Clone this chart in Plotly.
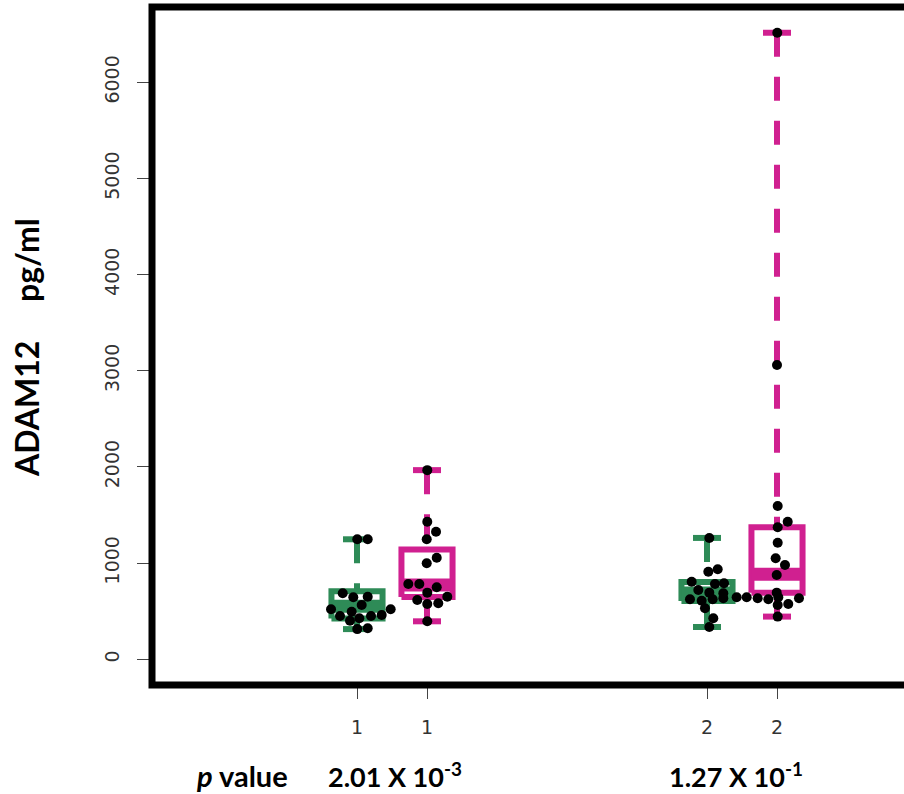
import plotly.graph_objects as go

# ---------------- data ----------------
box_positions = [1, 2, 6, 7]
box_colors = ["#2E8B57", "#D02090", "#2E8B57", "#D02090"]
box_min = [314, 395, 336, 444]
box_q1 = [424, 648, 606, 692]
box_median = [552, 772, 689, 884]
box_q3 = [707, 1141, 803, 1372]
box_max = [1248, 1967, 1262, 6515]

# individual observations (value, horizontal jitter offset)
g1_values = [1248, 1248, 686, 645, 651, 565, 520, 495, 520, 461, 450, 450, 426, 401, 314, 322]
g1_offsets = [0.004, 0.153, -0.204, -0.053, 0.153, 0.067, -0.371, -0.076, 0.481, 0.353,
              0.2, -0.243, 0.033, -0.1, 0.004, 0.153]
m1_values = [1967, 1431, 1327, 1248, 1056, 998, 783, 783, 749, 693, 651, 617, 575, 582, 395]
m1_offsets = [0.004, 0.004, 0.129, -0.004, 0.139, -0.004, -0.267, -0.11, 0.139, 0.004,
              0.29, -0.139, 0.004, 0.161, 0.004]
g2_values = [1262, 911, 936, 807, 783, 790, 721, 693, 686, 624, 609, 624, 634, 645, 645,
             530, 426, 336]
g2_offsets = [0.033, 0.019, 0.153, -0.219, 0.114, 0.243, -0.124, 0.033, 0.233, -0.243,
              -0.076, 0.081, 0.233, 0.424, 0.567, -0.029, 0.09, 0.033]
m2_values = [6515, 3060, 1594, 1431, 1373, 1212, 1050, 981, 877, 634, 624, 693, 645, 575,
             634, 565, 444]
m2_offsets = [0.004, 0.0, 0.01, 0.153, 0.01, 0.01, -0.019, 0.114, -0.004, -0.276, -0.124,
              -0.004, 0.019, 0.161, 0.314, 0.01, 0.01]
point_values = [g1_values, m1_values, g2_values, m2_values]
point_offsets = [g1_offsets, m1_offsets, g2_offsets, m2_offsets]

x_tick_labels = ["1", "1", "2", "2"]
y_tick_values = [0, 1000, 2000, 3000, 4000, 5000, 6000]
y_title_parts = ["ADAM12", "pg/ml"]
p_label = "<b><i>p</i> value</b>"
p_values = ["<b>2.01 X 10<sup>-3</sup></b>", "<b>1.27 X 10<sup>-1</sup></b>"]

# ---------------- figure ----------------
W, H = 904, 794
ML, MR, MT, MB = 152, 0, 7, 109
plot_w = W - ML - MR
plot_h = H - MT - MB

BOX_HALF = 0.365
CAP_HALF = 0.2
LW = 6

fig = go.Figure()

for i, c in enumerate(box_positions):
    col = box_colors[i]
    # whiskers (drawn from the extreme toward the box, dashed)
    fig.add_trace(go.Scatter(x=[c, c], y=[box_max[i], box_q3[i]], mode="lines",
                             line=dict(color=col, width=LW, dash="24px,20px"),
                             hoverinfo="skip", showlegend=False))
    fig.add_trace(go.Scatter(x=[c, c], y=[box_min[i], box_q1[i]], mode="lines",
                             line=dict(color=col, width=LW, dash="24px,20px"),
                             hoverinfo="skip", showlegend=False))
    # caps
    for v in (box_max[i], box_min[i]):
        fig.add_trace(go.Scatter(x=[c - CAP_HALF, c + CAP_HALF], y=[v, v], mode="lines",
                                 line=dict(color=col, width=LW),
                                 hoverinfo="skip", showlegend=False))
    # box
    fig.add_trace(go.Scatter(
        x=[c - BOX_HALF, c + BOX_HALF, c + BOX_HALF, c - BOX_HALF, c - BOX_HALF],
        y=[box_q1[i], box_q1[i], box_q3[i], box_q3[i], box_q1[i]],
        mode="lines", fill="toself", fillcolor="white",
        line=dict(color=col, width=LW), hoverinfo="skip", showlegend=False))
    # median band
    fig.add_trace(go.Scatter(x=[c - BOX_HALF, c + BOX_HALF],
                             y=[box_median[i], box_median[i]], mode="lines",
                             line=dict(color=col, width=13),
                             hoverinfo="skip", showlegend=False))

for i, c in enumerate(box_positions):
    fig.add_trace(go.Scatter(
        x=[c + o for o in point_offsets[i]], y=point_values[i], mode="markers",
        marker=dict(color="black", size=10, line=dict(width=0)),
        hoverinfo="skip", showlegend=False))

x_lo = 1 - (357 - ML) / 70.0
x_hi = 1 + (W - MR - 357) / 70.0
px_per_unit = 0.09617
y_hi = (659.3 - MT) / px_per_unit
y_lo = (659.3 - (H - MB)) / px_per_unit

tick_font = dict(family="DejaVu Sans", size=19, color="#333333")

fig.update_layout(
    width=W, height=H, autosize=False,
    margin=dict(l=ML, r=MR, t=MT, b=MB, pad=0),
    paper_bgcolor="white", plot_bgcolor="white",
    hovermode=False,
    xaxis=dict(range=[x_lo, x_hi], tickmode="array", tickvals=box_positions,
               ticktext=x_tick_labels, ticks="outside", ticklen=13, tickwidth=1,
               tickcolor="#444444", showgrid=False, zeroline=False, showline=False,
               tickfont=tick_font, ticklabelstandoff=12),
    yaxis=dict(range=[y_lo, y_hi], tickmode="array", tickvals=y_tick_values,
               ticks="outside", ticklen=14, tickwidth=1, tickcolor="#444444",
               tickangle=-90, showgrid=False, zeroline=False, showline=False,
               tickfont=tick_font, ticklabelstandoff=10),
    shapes=[dict(type="path", xref="paper", yref="paper",
                 path="M 1.05,0 L 0,0 L 0,1 L 1.05,1",
                 line=dict(color="black", width=7))],
)

def px_x(p):
    return (p - ML) / plot_w

def px_y(p):
    return (H - MB - p) / plot_h

title_font = dict(family="Lato", size=32, color="black")
fig.add_annotation(text="<b>" + y_title_parts[0] + "</b>", textangle=-90,
                   xref="paper", yref="paper", x=px_x(26), y=px_y(409),
                   xanchor="center", yanchor="middle", showarrow=False, font=title_font)
fig.add_annotation(text="<b>" + y_title_parts[1] + "</b>", textangle=-90,
                   xref="paper", yref="paper", x=px_x(26), y=px_y(260),
                   xanchor="center", yanchor="middle", showarrow=False, font=title_font)

bottom_font = dict(family="Lato", size=27, color="black")
fig.add_annotation(text=p_label, xref="paper", yref="paper", x=px_x(242), y=px_y(775),
                   xanchor="center", yanchor="middle", showarrow=False,
                   font=dict(family="Lato", size=29, color="black"))
for txt, cx in zip(p_values, [394.5, 736]):
    fig.add_annotation(text=txt, xref="paper", yref="paper", x=px_x(cx), y=px_y(775),
                       xanchor="center", yanchor="middle", showarrow=False, font=bottom_font)

fig.write_html("out.html", post_script="document.body.style.margin='0';",
               config={"displayModeBar": False})
